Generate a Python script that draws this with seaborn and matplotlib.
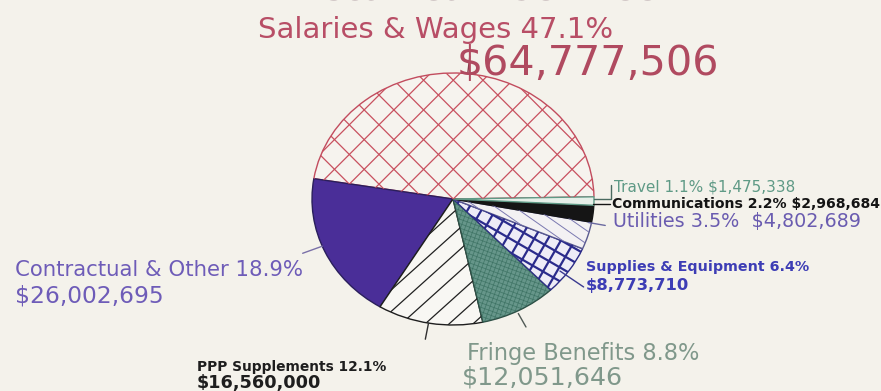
import numpy as np
import seaborn as sns
import matplotlib
matplotlib.use("Agg")
import matplotlib.pyplot as plt
from matplotlib.collections import LineCollection
from matplotlib.transforms import IdentityTransform

# ---- data -------------------------------------------------------------
categories = ["Salaries & Wages", "Contractual & Other", "PPP Supplements",
              "Fringe Benefits", "Supplies & Equipment", "Utilities",
              "Communications", "Travel"]
percents = [47.1, 18.9, 12.1, 8.8, 6.4, 3.5, 2.2, 1.1]
amounts = [64777506, 26002695, 16560000, 12051646, 8773710,
           4802689, 2968684, 1475338]
title_text = "Fiscal Year 1987 - 88"

# ---- style ------------------------------------------------------------
sns.set_theme(style="white")
plt.rcParams["font.family"] = ["DejaVu Sans"]

BG = "#f4f2eb"
W, H = 881, 391
fig = plt.figure(figsize=(W / 100, H / 100), dpi=100, facecolor=BG)

# pie axes: stretched so the pie is drawn as an ellipse
cx, cy, rx, ry = 453, 199, 141, 126
ax = fig.add_axes([(cx - rx) / W, (H - cy - ry) / H, 2 * rx / W, 2 * ry / H])
ax.set_facecolor(BG)

fills = ["#f6f3ee", "#4a2e98", "#f8f7f3", "#66968a",
         "#eeecf7", "#f3f1f3", "#151515", "#e6efe8"]
edges = ["#c24c5e", "#2a1f5c", "#1e1e1e", "#2d4f45",
         "#2e2e86", "#5a5a90", "#151515", "#5f9a86"]

wedges, _ = ax.pie(amounts, startangle=1, counterclock=True, colors=fills,
                   wedgeprops=dict(linewidth=1.0))
for w, ec in zip(wedges, edges):
    w.set_edgecolor(ec)
ax.set_aspect("auto")
ax.set_xlim(-1, 1)
ax.set_ylim(-1, 1)
ax.axis("off")


def hatch(wedge, angles, spacing, color, lw, alpha=1.0):
    """Parallel line hatching in pixel space, clipped to one wedge."""
    x0, y0, x1, y1 = ax.bbox.extents
    mx, my = (x0 + x1) / 2, (y0 + y1) / 2
    R = np.hypot(x1 - x0, y1 - y0)
    segs = []
    for a in angles:
        d = np.array([np.cos(np.radians(a)), np.sin(np.radians(a))])
        n = np.array([-d[1], d[0]])
        for k in np.arange(-R, R, spacing):
            p = np.array([mx, my]) + k * n
            segs.append([p - R * d, p + R * d])
    lc = LineCollection(segs, colors=color, linewidths=lw, alpha=alpha,
                        transform=IdentityTransform(), zorder=1.5)
    lc.set_clip_path(wedge)
    ax.add_collection(lc, autolim=False)


hatch(wedges[0], [45, 135], 21, "#c8505f", 0.9)           # salaries
hatch(wedges[2], [42], 16, "#202020", 0.9)                # PPP
hatch(wedges[3], [70, 160], 4.2, "#2f6656", 0.6, 0.6)     # fringe
hatch(wedges[4], [60, 150], 12, "#2b2b8c", 1.6)           # supplies
hatch(wedges[5], [-35], 11, "#7a78b0", 0.7)               # utilities

# ---- leader ticks (polar positions on the ellipse) --------------------
def tick(theta, r0, r1, color, lw=1.0):
    t = np.radians(theta)
    ax.plot([r0 * np.cos(t), r1 * np.cos(t)], [r0 * np.sin(t), r1 * np.sin(t)],
            color=color, lw=lw, clip_on=False, zorder=3)


tick(84, 1.0, 1.14, "#8a3a4a")
tick(-158, 1.0, 1.15, "#7a70a8")
tick(-100, 1.0, 1.13, "#303030")
tick(-63, 1.02, 1.14, "#505a55")
tick(-37, 0.95, 1.16, "#3a3a90")
tick(-11, 0.98, 1.10, "#6a6aa0")
# communications and travel leaders run horizontally
ax.plot([0.99, 1.11], [-0.04, -0.04], color="#151515", lw=1.0, clip_on=False, zorder=3)
ax.plot([1.0, 1.12, 1.12], [0.0, 0.0, 0.11], color="#4a6a60", lw=1.0,
        clip_on=False, zorder=3)

# ---- text -------------------------------------------------------------
renderer = fig.canvas.get_renderer()


def place(text, x_px, base_px, width_px, color, weight="normal"):
    t = fig.text(x_px / W, 1 - base_px / H, text, color=color,
                 fontweight=weight, fontsize=10, ha="left", va="baseline")
    w = t.get_window_extent(renderer).width
    t.set_fontsize(10 * width_px / w)
    return t


def money(v):
    return f"${v:,}"


pct = [f"{p:.1f}%" for p in percents]

# heading sits mostly above the top edge
place(title_text, 298, -1, 360, "#b09ea3")

place(f"{categories[0]} {pct[0]}", 258, 38, 354, "#b84e66")
place(money(amounts[0]), 457, 75, 261, "#b04a60")

place(f"{categories[7]} {pct[7]} {money(amounts[7])}", 614, 191, 181, "#5f9a86")
place(f"{categories[6]} {pct[6]} {money(amounts[6])}", 612, 208, 268, "#141414", "bold")
place(f"{categories[5]} {pct[5]}  {money(amounts[5])}", 613, 227, 247, "#6a5cb0")

place(f"{categories[4]} {pct[4]}", 586, 271, 221, "#3d3db5", "bold")
place(money(amounts[4]), 586, 290, 104, "#3d3db5", "bold")

place(f"{categories[3]} {pct[3]}", 467, 360, 233, "#80988b")
place(money(amounts[3]), 462, 385, 160, "#80988b")

place(f"{categories[2]} {pct[2]}", 197, 371, 189, "#1e1e1e", "bold")
place(money(amounts[2]), 197, 388, 124, "#1e1e1e", "bold")

place(f"{categories[1]} {pct[1]}", 15, 276, 288, "#6e5cb8")
place(money(amounts[1]), 15, 302, 148, "#6e5cb8")

fig.savefig("out.png", dpi=100, facecolor=BG)
